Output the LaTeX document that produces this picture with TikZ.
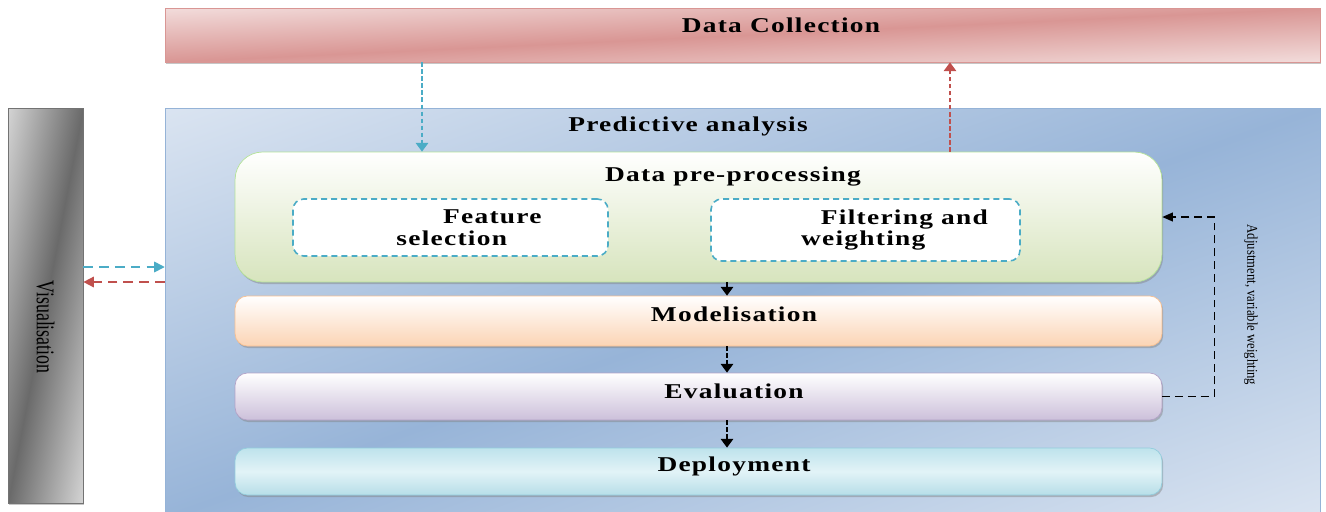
\documentclass[tikz,border=0pt]{standalone}
\usepackage{fontspec}
\setmainfont{Liberation Serif}[FakeStretch=1.3, LetterSpace=6]
\newfontfamily\plainserif{Liberation Serif}
\usetikzlibrary{shapes, arrows.meta, positioning, shadows}

\definecolor{flowblue}{HTML}{4BACC6}
\definecolor{flowred}{HTML}{C0504D}
\definecolor{collectdark}{HTML}{D99694}
\definecolor{paneldark}{HTML}{95B3D7}

% light in two corners, dark band along the other diagonal:
% s = |y-x|/50, colour = dark + s*(light-dark)
\pgfdeclarefunctionalshading{collectshade}{\pgfpoint{-50bp}{-50bp}}{\pgfpoint{50bp}{50bp}}{}{
    exch sub abs 50 div dup 1 gt {pop 1} if
    dup 0.098 mul 0.851 add exch
    dup 0.275 mul 0.588 add exch
    0.279 mul 0.580 add}
\pgfdeclarefunctionalshading{panelshade}{\pgfpoint{-50bp}{-50bp}}{\pgfpoint{50bp}{50bp}}{}{
    exch sub abs 50 div dup 1 gt {pop 1} if
    dup 0.263 mul 0.592 add exch
    dup 0.188 mul 0.706 add exch
    0.098 mul 0.847 add}
\pgfdeclarefunctionalshading{visshade}{\pgfpoint{-50bp}{-50bp}}{\pgfpoint{50bp}{50bp}}{}{
    exch sub abs 50 div dup 1 gt {pop 1} if
    dup 0.415 mul 0.416 add exch
    dup 0.415 mul 0.416 add exch
    0.415 mul 0.416 add}

\tikzstyle{panel} = [draw, rectangle, inner sep=0pt]
\tikzstyle{shadowed} = [drop shadow={shadow xshift=0.7pt, shadow yshift=-1.2pt, fill=black!50, opacity=0.45}]
\tikzstyle{stage} = [draw, rectangle, rounded corners=7pt, inner sep=0pt, minimum width=18.54cm, shadowed]
\tikzstyle{subblock} = [draw=flowblue, dash pattern=on 3.4pt off 2.3pt, line width=0.9pt, fill=white, rounded corners=6pt, inner sep=0pt]
\tikzstyle{heading} = [font=\bfseries\fontsize{12}{12.5}\selectfont, inner sep=0pt]
\tikzstyle{flow} = [dash pattern=on 2.4pt off 1.6pt, line width=1.2pt, -{Triangle[length=5pt, width=7pt]}]
\tikzstyle{side} = [dash pattern=on 5.5pt off 3.5pt, line width=0.9pt, -{Triangle[length=6pt, width=6pt]}]
\tikzstyle{loop} = [dash pattern=on 4.5pt off 2.8pt, line width=0.8pt, -{Triangle[length=6pt, width=5pt]}]

\begin{document}
\begin{tikzpicture}[x=0.02cm, y=-0.02cm]
    \useasboundingbox (0,0) rectangle (1326,511);

    \node [panel, shading=panelshade, draw=paneldark, minimum width=23.1cm, minimum height=8.2cm,
           label={[heading, anchor=center, xshift=-1.09cm, yshift=-0.38cm]north:Predictive analysis}] (analysis) at (742.5,313) {};
    \node [panel, shadowed, shading=collectshade, draw=collectdark, minimum width=23.1cm, minimum height=1.08cm,
           label={[heading, xshift=0.77cm, yshift=0.2cm]center:Data Collection}] (collect) at (742.5,35) {};
    \node [panel, shadowed, shading=visshade, draw=black!55, minimum width=1.5cm, minimum height=7.9cm,
           label={[yshift=-0.43cm, rotate=-90, inner sep=0pt, font=\plainserif\fontsize{14.5}{16}\selectfont]center:\scalebox{0.7}[1]{Visualisation}}] (vis) at (45.5,305.5) {};

    \node [stage, rounded corners=0.55cm, draw=green!45!olive!40, top color=white, bottom color={rgb,255:red,215;green,228;blue,189},
           minimum height=2.6cm, label={[heading, xshift=0.69cm, yshift=0.82cm]center:Data pre-processing}] (prep) at (698.5,217) {};
    \node [subblock, minimum width=6.3cm, minimum height=1.14cm,
           label={[heading, align=left, xshift=0.37cm]center:\hspace*{26.6pt}Feature\\selection}] (feature) at (450.5,227.5) {};
    \node [subblock, minimum width=6.18cm, minimum height=1.24cm,
           label={[heading, align=left, xshift=0.58cm]center:\hspace*{11.3pt}Filtering and\\weighting}] (filter) at (865.5,230) {};

    \node [stage, draw={rgb,255:red,250;green,192;blue,144}, top color=white, bottom color={rgb,255:red,251;green,212;blue,180},
           minimum height=1.0cm, label={[heading, xshift=0.71cm, yshift=0.14cm]center:Modelisation}] (model) at (698.5,321) {};
    \node [stage, draw={rgb,255:red,179;green,162;blue,199}, top color=white, bottom color={rgb,255:red,204;green,192;blue,218},
           minimum height=0.94cm, label={[heading, xshift=0.71cm, yshift=0.11cm]center:Evaluation}] (eval) at (698.5,396.5) {};
    \node [stage, draw={rgb,255:red,147;green,205;blue,221}, top color={rgb,255:red,190;green,227;blue,236},
           bottom color={rgb,255:red,183;green,222;blue,232}, middle color={rgb,255:red,226;green,243;blue,247},
           minimum height=0.94cm, label={[heading, xshift=0.71cm, yshift=0.11cm]center:Deployment}] (deploy) at (698.5,471.5) {};

    \node [rotate=-90, inner sep=0pt, font=\plainserif\fontsize{8.5}{10}\selectfont] (adjust) at (1251,305) {\scalebox{0.85}[1]{Adjustment, variable weighting}};

    \coordinate (down) at (422,0);
    \coordinate (up) at (950,0);
    \coordinate (mid) at (727,0);
    \coordinate (vin) at (0,267);
    \coordinate (vout) at (0,282);

    \draw [flow, flowblue] (collect.south -| down) -- (prep.north -| down);
    \draw [flow, flowred] (prep.north -| up) -- (collect.south -| up);
    \draw [side, flowblue] (vis.east |- vin) -- (analysis.west |- vin);
    \draw [side, flowred] (analysis.west |- vout) -- (vis.east |- vout);

    \draw [flow] (prep.south -| mid) -- (model.north -| mid);
    \draw [flow] (model.south -| mid) -- (eval.north -| mid);
    \draw [flow] (eval.south -| mid) -- (deploy.north -| mid);

    \draw [loop] (eval.east) -- ++(52,0) |- (prep.east);
\end{tikzpicture}
\end{document}
